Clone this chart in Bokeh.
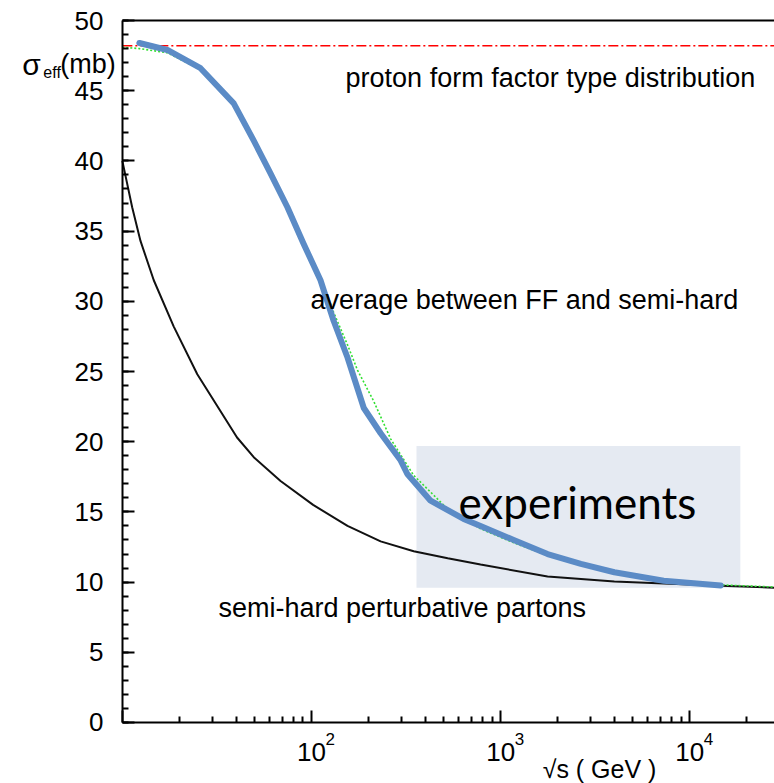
from bokeh.plotting import figure
from bokeh.models import Range1d, FixedTicker, LogAxis, Label, BoxAnnotation
from bokeh.embed import file_html
from bokeh.resources import INLINE

# sqrt(s) in GeV, sigma_eff in mb
semi_hard_sqrt_s = [10, 11.27, 12.47, 14.66, 18.7, 24.9, 40.4, 49.5, 68.6, 102, 155, 232, 347,
                    525, 783, 1770, 3990, 13300, 28000]
semi_hard_sigma = [40.0, 36.7, 34.3, 31.5, 28.2, 24.8, 20.3, 18.9, 17.2, 15.5, 14.0, 12.9, 12.2,
                   11.7, 11.25, 10.4, 10.05, 9.76, 9.6]

average_sqrt_s = [10, 12.3, 17.3, 25.9, 38.8, 49.5, 60.8, 74.6, 90.8, 111.6, 131, 155, 175, 213,
                  262, 347, 525, 783, 1172, 1770, 2655, 3990, 7280, 14560, 28000]
average_sigma = [48.1, 48.0, 47.7, 46.5, 44.0, 41.5, 39.2, 36.8, 34.3, 31.7, 29.2, 26.9, 25.1,
                 22.9, 20.2, 17.6, 15.2, 13.8, 12.8, 11.9, 11.2, 10.7, 10.15, 9.8, 9.65]

experiments_sqrt_s = [12.3, 17.3, 25.9, 38.8, 49.5, 60.8, 74.6, 90.8, 111.6, 131, 155, 189, 232,
                      295, 321, 426, 637, 783, 1172, 1770, 2655, 3990, 7280, 14560]
experiments_sigma = [48.4, 47.9, 46.6, 44.1, 41.45, 39.1, 36.7, 34.1, 31.5, 28.6, 26.0, 22.4,
                     20.6, 18.7, 17.7, 15.8, 14.5, 14.0, 13.0, 12.0, 11.3, 10.7, 10.1, 9.76]

form_factor_sigma = 48.2

# energy span and sigma span covered by the measurements
experiments_sqrt_s_span = [359, 18500]
experiments_sigma_span = [9.6, 19.7]

# extent of the drawn axes
sqrt_s_axis_span = [10, 28035]
sigma_axis_span = [0, 50]

y_ticks = [0, 5, 10, 15, 20, 25, 30, 35, 40, 45, 50]
x_ticks = [10, 100, 1000, 10000]
x_tick_text = {10: "", 100: "10", 1000: "10", 10000: "10"}
x_tick_exponents = {100: "2", 1000: "3", 10000: "4"}

FONT = "Liberation Sans"

# the frame fills the whole canvas; the axes sit at fixed data positions inside it
p = figure(width=774, height=783, x_axis_type="log",
           x_range=Range1d(2.269, 28035), y_range=Range1d(-4.345, 51.425),
           output_backend="svg", toolbar_location=None, min_border=0)
p.background_fill_color = "white"
p.border_fill_color = "white"
p.outline_line_color = None
p.xgrid.visible = False
p.ygrid.visible = False

minor_x = [m * 10 ** e for e in range(1, 5) for m in range(2, 10)]
p.xaxis.ticker = FixedTicker(ticks=x_ticks, minor_ticks=minor_x)
p.xaxis.major_label_overrides = x_tick_text
p.xaxis.fixed_location = sigma_axis_span[0]
p.xaxis.bounds = tuple(sqrt_s_axis_span)
p.yaxis.ticker = FixedTicker(ticks=y_ticks, minor_ticks=list(range(0, 51)))
p.yaxis.fixed_location = sqrt_s_axis_span[0]
p.yaxis.bounds = tuple(sigma_axis_span)
for ax in (p.xaxis, p.yaxis):
    ax.axis_line_width = 2
    ax.axis_line_color = "black"
    ax.major_tick_in = 12
    ax.major_tick_out = 0
    ax.minor_tick_in = 6
    ax.minor_tick_out = 0
    ax.major_tick_line_width = 2
    ax.minor_tick_line_width = 2
    ax.major_tick_line_color = "black"
    ax.minor_tick_line_color = "black"
    ax.major_label_text_font = FONT
    ax.major_label_text_font_size = "26px"
    ax.major_label_text_color = "black"
p.yaxis.major_label_standoff = 19
p.xaxis.major_label_standoff = 21

# plain line closing the frame on top
top = LogAxis(ticker=FixedTicker(ticks=[]), fixed_location=sigma_axis_span[1],
              bounds=tuple(sqrt_s_axis_span), axis_line_width=2, axis_line_color="black",
              major_tick_out=0, major_tick_in=0, minor_tick_out=0, minor_tick_in=0,
              major_label_standoff=0)
p.add_layout(top, "above")

# measured energy window
p.add_layout(BoxAnnotation(left=experiments_sqrt_s_span[0], right=experiments_sqrt_s_span[1],
                           bottom=experiments_sigma_span[0], top=experiments_sigma_span[1],
                           fill_color="#e5eaf2", fill_alpha=1.0, line_color=None,
                           level="underlay"))

# proton form factor limit
p.line(sqrt_s_axis_span, [form_factor_sigma, form_factor_sigma], line_color="#ff0000",
       line_width=1.5, line_dash="10 3 2 3")

p.line(semi_hard_sqrt_s, semi_hard_sigma, line_color="#111111", line_width=2)
p.line(average_sqrt_s, average_sigma, line_color="#33e033", line_width=1.6, line_dash="2 2")
p.line(experiments_sqrt_s, experiments_sigma, line_color="#5b8bc6", line_width=6,
       line_cap="round", line_join="round")


def add_text(x, y, text, size, x_offset=0, y_offset=0, font=FONT, align="left",
             baseline="alphabetic"):
    p.add_layout(Label(x=x, y=y, x_offset=x_offset, y_offset=y_offset, text=text,
                       text_font=font, text_font_size=size, text_color="black",
                       text_align=align, text_baseline=baseline))


add_text(151.4, 45.94, "proton form factor type distribution", "27px")
add_text(98.9, 30.06, "average between FF and semi-hard", "27px")
add_text(32.2, 8.12, "semi-hard perturbative partons", "27px")
add_text(598, 15.67, "experiments", "44px", font="Lato")

# exponents of the decade labels
for tick, exp in x_tick_exponents.items():
    add_text(tick, 0, exp, "17px", x_offset=14, y_offset=-11, baseline="top")

# axis titles
add_text(1000, 0, "\u221as ( GeV )", "25px", x_offset=42, y_offset=-47)
add_text(10, 46.9, "\u03c3", "30px", x_offset=-100)
add_text(10, 46.9, "eff", "16px", x_offset=-79, y_offset=-8)
add_text(10, 46.9, "(mb)", "27px", x_offset=-62)

open("out.html", "w").write(file_html(p, INLINE))
